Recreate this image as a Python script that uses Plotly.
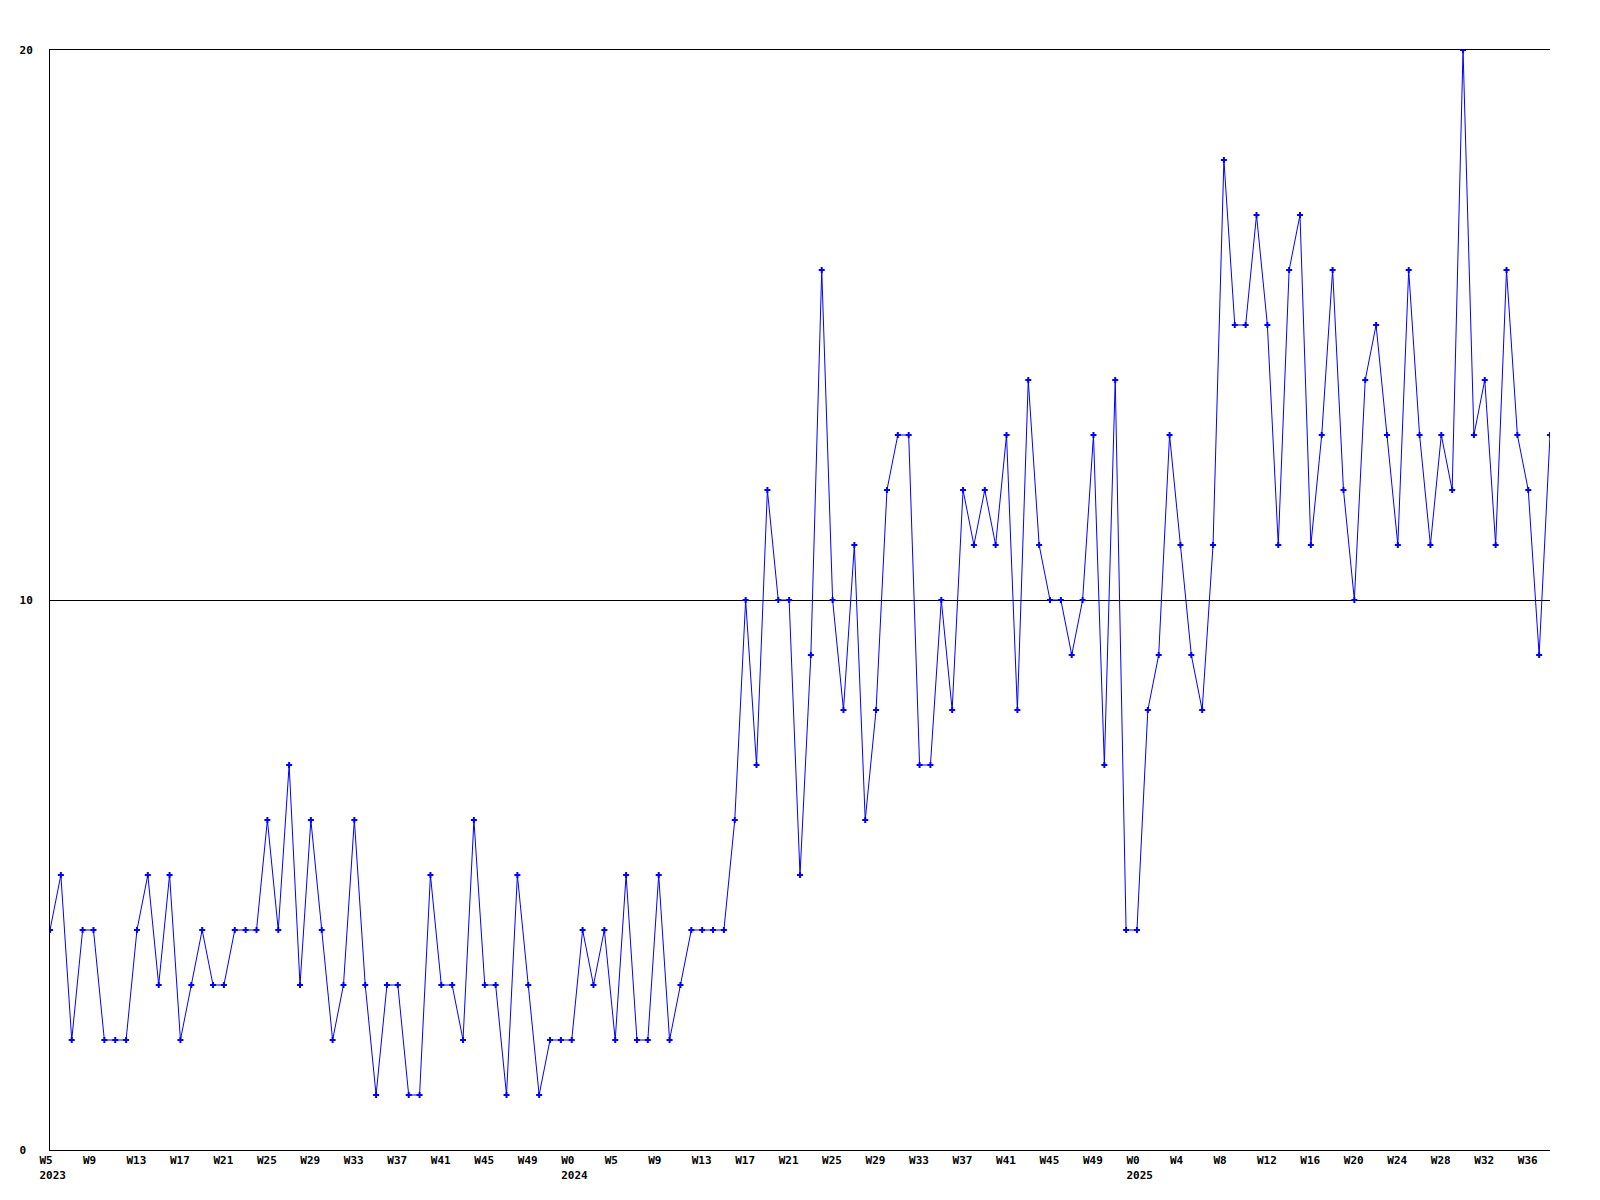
"""Weekly count line chart, 2023 W5 - 2025 W38."""

import plotly.graph_objects as go

# one value per week, first point is 2023 W5
values = [
    4, 5, 2, 4, 4, 2, 2, 2, 4, 5,
    3, 5, 2, 3, 4, 3, 3, 4, 4, 4,
    6, 4, 7, 3, 6, 4, 2, 3, 6, 3,
    1, 3, 3, 1, 1, 5, 3, 3, 2, 6,
    3, 3, 1, 5, 3, 1, 2, 2, 2, 4,
    3, 4, 2, 5, 2, 2, 5, 2, 3, 4,
    4, 4, 4, 6, 10, 7, 12, 10, 10, 5,
    9, 16, 10, 8, 11, 6, 8, 12, 13, 13,
    7, 7, 10, 8, 12, 11, 12, 11, 13, 8,
    14, 11, 10, 10, 9, 10, 13, 7, 14, 4,
    4, 8, 9, 13, 11, 9, 8, 11, 18, 15,
    15, 17, 15, 11, 16, 17, 11, 13, 16, 12,
    10, 14, 15, 13, 11, 16, 13, 11, 13, 12,
    20, 13, 14, 11, 16, 13, 12, 9, 13,
]

# a label every 4th week
week_labels = [
    "W5", "W9", "W13", "W17", "W21", "W25", "W29", "W33", "W37", "W41", "W45", "W49",
    "W0", "W5", "W9", "W13", "W17", "W21", "W25", "W29", "W33", "W37", "W41", "W45", "W49",
    "W0", "W4", "W8", "W12", "W16", "W20", "W24", "W28", "W32", "W36",
]
year_labels = {0: "2023", 12: "2024", 25: "2025"}

weeks = list(range(len(values)))
tick_pos = weeks[::4][:len(week_labels)]
tick_text = [
    f"{w}<br>{year_labels[i]}" if i in year_labels else w
    for i, w in enumerate(week_labels)
]

BLUE = "#0000ff"
lbl_font = dict(family="DejaVu Sans Mono", size=11, color="black", weight="bold")

fig = go.Figure()
fig.add_trace(go.Scatter(
    x=weeks, y=values, mode="lines+markers",
    line=dict(color=BLUE, width=1),
    marker=dict(color=BLUE, size=5, symbol="cross"),
    showlegend=False, hoverinfo="x+y",
))

fig.update_layout(
    width=1600, height=1200,
    margin=dict(l=50, r=50, t=50, b=50),
    plot_bgcolor="white", paper_bgcolor="white",
    xaxis=dict(
        range=[0, len(values) - 1],
        tickvals=tick_pos, ticktext=tick_text,
        ticklabelposition="outside right", ticklabelshift=-11,
        showgrid=False, zeroline=False,
        showline=True, linecolor="black", linewidth=1, mirror=True,
        ticks="", tickfont=lbl_font,
    ),
    yaxis=dict(
        range=[0, 20],
        tickvals=[0, 10, 20], ticktext=["0\u00a0", "10", "20"],
        showgrid=True, gridcolor="black", gridwidth=1,
        zeroline=False, showline=True, linecolor="black", linewidth=1,
        ticks="", ticklabelstandoff=14, tickfont=lbl_font,
    ),
)

fig.write_html(
    "out.html",
    config={"displayModeBar": False},
    post_script="document.body.style.margin='0';",
)
